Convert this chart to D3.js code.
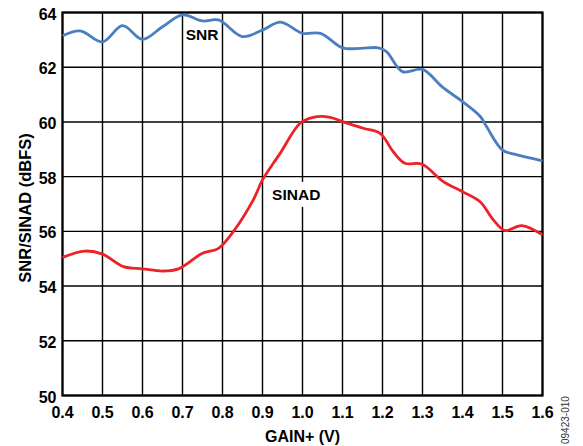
<!DOCTYPE html>
<html>
<head>
<meta charset="utf-8">
<script src="https://cdn.jsdelivr.net/npm/d3@7"></script>
<style>
  body { margin: 0; background: #fff; }
  text { font-family: "Liberation Sans", Arial, sans-serif; }
</style>
</head>
<body>
<main></main>
<script>
const snrGain = [0.40, 0.444, 0.50, 0.55, 0.60, 0.65, 0.70, 0.75, 0.79, 0.85, 0.90, 0.945, 1.00, 1.045,
    1.10, 1.145, 1.19, 1.21, 1.25, 1.30, 1.35, 1.40, 1.445, 1.46, 1.50, 1.53, 1.60];
const snr = [63.15, 63.33, 62.93, 63.52, 63.02, 63.48, 63.91, 63.69, 63.73, 63.12, 63.36, 63.65, 63.24, 63.24,
    62.71, 62.69, 62.71, 62.57, 61.84, 61.92, 61.27, 60.74, 60.19, 59.83, 58.97, 58.82, 58.58];

const sinadGain = [0.40, 0.456, 0.50, 0.552, 0.60, 0.65, 0.69, 0.75, 0.79, 0.827, 0.877, 0.90, 0.944, 0.994,
    1.027, 1.069, 1.10, 1.152, 1.194, 1.227, 1.256, 1.298, 1.352, 1.40, 1.444, 1.477, 1.506, 1.548, 1.60];
const sinad = [55.05, 55.28, 55.17, 54.71, 54.63, 54.55, 54.63, 55.2, 55.38, 55.99, 57.15, 57.88, 58.85, 59.95,
    60.17, 60.17, 60.01, 59.77, 59.58, 58.91, 58.49, 58.46, 57.82, 57.45, 57.08, 56.42, 56.03, 56.21, 55.87];

const xTicks = [0.4, 0.5, 0.6, 0.7, 0.8, 0.9, 1.0, 1.1, 1.2, 1.3, 1.4, 1.5, 1.6];
const yTicks = [50, 52, 54, 56, 58, 60, 62, 64];

const width = 583, height = 446;
const margin = { top: 12.5, right: 40.5, bottom: 50.5, left: 62.5 };

const svg = d3.select("main").append("svg").attr("width", width).attr("height", height);

const x = d3.scaleLinear().domain([0.4, 1.6]).range([margin.left, width - margin.right]);
const y = d3.scaleLinear().domain([50, 64]).range([height - margin.bottom, margin.top]);

// grid
const grid = svg.append("g").attr("stroke", "#000").attr("stroke-width", 1.4);
grid.selectAll(".vx").data(xTicks).join("line")
    .attr("x1", d => x(d)).attr("x2", d => x(d))
    .attr("y1", y(50)).attr("y2", y(64));
grid.selectAll(".hy").data(yTicks).join("line")
    .attr("x1", x(0.4)).attr("x2", x(1.6))
    .attr("y1", d => y(d)).attr("y2", d => y(d));

// tick labels
svg.append("g").selectAll("text").data(xTicks).join("text")
    .attr("x", d => x(d)).attr("y", y(50) + 22)
    .attr("text-anchor", "middle")
    .attr("font-size", 16).attr("font-weight", "bold")
    .text(d => d.toFixed(1));

svg.append("g").selectAll("text").data(yTicks).join("text")
    .attr("x", x(0.4) - 6).attr("y", d => y(d) + 7)
    .attr("text-anchor", "end")
    .attr("font-size", 16).attr("font-weight", "bold")
    .text(d => d);

// frame
svg.append("rect")
    .attr("x", x(0.4)).attr("y", y(64))
    .attr("width", x(1.6) - x(0.4)).attr("height", y(50) - y(64))
    .attr("fill", "none").attr("stroke", "#000").attr("stroke-width", 2.2);

const line = d3.line().curve(d3.curveCatmullRom.alpha(0.5));

svg.append("path")
    .attr("d", line(snrGain.map((g, i) => [x(g), y(snr[i])])))
    .attr("fill", "none").attr("stroke", "#4a7ebf").attr("stroke-width", 2.8);

svg.append("path")
    .attr("d", line(sinadGain.map((g, i) => [x(g), y(sinad[i])])))
    .attr("fill", "none").attr("stroke", "#ec2227").attr("stroke-width", 2.8);

// series labels
svg.append("text")
    .attr("x", x(0.708)).attr("y", y(63.0))
    .attr("font-size", 15.5).attr("font-weight", "bold")
    .text("SNR");

const sinadLabel = svg.append("g");
const sinadBg = sinadLabel.append("rect").attr("fill", "#fff");
const sinadText = sinadLabel.append("text")
    .attr("x", x(0.924)).attr("y", y(57.15))
    .attr("font-size", 15.5).attr("font-weight", "bold")
    .text("SINAD");
const bb = sinadText.node().getBBox();
sinadBg.attr("x", bb.x - 3).attr("y", bb.y - 4).attr("width", bb.width + 6).attr("height", bb.height + 8);

// axis titles
svg.append("text")
    .attr("x", (x(0.4) + x(1.6)) / 2).attr("y", height - 4.5)
    .attr("text-anchor", "middle")
    .attr("font-size", 16).attr("font-weight", "bold")
    .text("GAIN+ (V)");

svg.append("text")
    .attr("transform", `translate(30.5,208) rotate(-90)`)
    .attr("text-anchor", "middle")
    .attr("font-size", 16.5).attr("font-weight", "bold")
    .text("SNR/SINAD (dBFS)");

svg.append("text")
    .attr("transform", `translate(568.5,444) rotate(-90)`)
    .attr("font-size", 10).attr("fill", "#333")
    .text("09423-010");
</script>
</body>
</html>
